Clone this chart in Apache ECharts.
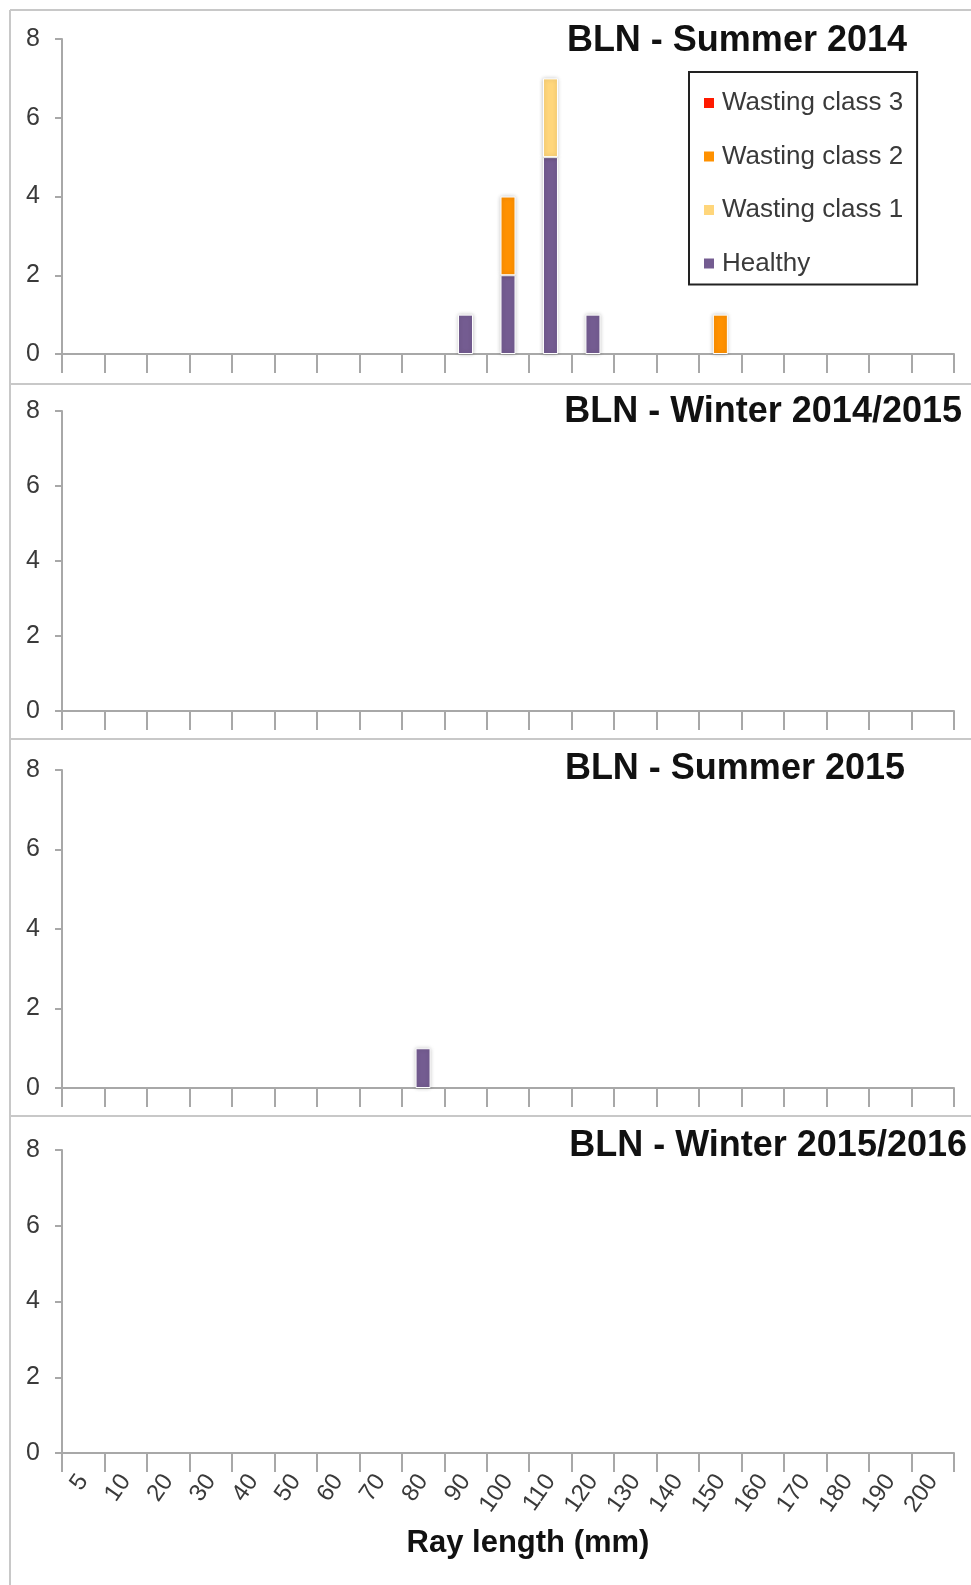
<!DOCTYPE html>
<html>
<head>
<meta charset="utf-8">
<script src="https://cdn.jsdelivr.net/npm/echarts@6/dist/echarts.min.js"></script>
<style>
  html, body { margin: 0; padding: 0; background: #ffffff; }
  #chart { width: 971px; height: 1585px; }
</style>
</head>
<body>
<div id="chart"></div>
<script>
// ---------- DATA ----------
const categories = ['5','10','20','30','40','50','60','70','80','90','100','110','120','130','140','150','160','170','180','190','200'];
const panelTitles = ['BLN - Summer 2014', 'BLN - Winter 2014/2015', 'BLN - Summer 2015', 'BLN - Winter 2015/2016'];
const seriesNames = ['Healthy', 'Wasting class 1', 'Wasting class 2', 'Wasting class 3'];
const legendOrder = ['Wasting class 3', 'Wasting class 2', 'Wasting class 1', 'Healthy'];
const yTicks = [0, 2, 4, 6, 8];
const xAxisTitle = 'Ray length (mm)';

// Summer 2014
const summer2014Healthy = [0,0,0,0,0,0,0,0,0,1,2,5,1,0,0,0,0,0,0,0,0];
const summer2014Class1  = [0,0,0,0,0,0,0,0,0,0,0,2,0,0,0,0,0,0,0,0,0];
const summer2014Class2  = [0,0,0,0,0,0,0,0,0,0,2,0,0,0,0,1,0,0,0,0,0];
const summer2014Class3  = [0,0,0,0,0,0,0,0,0,0,0,0,0,0,0,0,0,0,0,0,0];
// Winter 2014/2015
const winter1415Healthy = [0,0,0,0,0,0,0,0,0,0,0,0,0,0,0,0,0,0,0,0,0];
const winter1415Class1  = [0,0,0,0,0,0,0,0,0,0,0,0,0,0,0,0,0,0,0,0,0];
const winter1415Class2  = [0,0,0,0,0,0,0,0,0,0,0,0,0,0,0,0,0,0,0,0,0];
const winter1415Class3  = [0,0,0,0,0,0,0,0,0,0,0,0,0,0,0,0,0,0,0,0,0];
// Summer 2015
const summer2015Healthy = [0,0,0,0,0,0,0,0,1,0,0,0,0,0,0,0,0,0,0,0,0];
const summer2015Class1  = [0,0,0,0,0,0,0,0,0,0,0,0,0,0,0,0,0,0,0,0,0];
const summer2015Class2  = [0,0,0,0,0,0,0,0,0,0,0,0,0,0,0,0,0,0,0,0,0];
const summer2015Class3  = [0,0,0,0,0,0,0,0,0,0,0,0,0,0,0,0,0,0,0,0,0];
// Winter 2015/2016
const winter1516Healthy = [0,0,0,0,0,0,0,0,0,0,0,0,0,0,0,0,0,0,0,0,0];
const winter1516Class1  = [0,0,0,0,0,0,0,0,0,0,0,0,0,0,0,0,0,0,0,0,0];
const winter1516Class2  = [0,0,0,0,0,0,0,0,0,0,0,0,0,0,0,0,0,0,0,0,0];
const winter1516Class3  = [0,0,0,0,0,0,0,0,0,0,0,0,0,0,0,0,0,0,0,0,0];

const panelData = [
  [summer2014Healthy, summer2014Class1, summer2014Class2, summer2014Class3],
  [winter1415Healthy, winter1415Class1, winter1415Class2, winter1415Class3],
  [summer2015Healthy, summer2015Class1, summer2015Class2, summer2015Class3],
  [winter1516Healthy, winter1516Class1, winter1516Class2, winter1516Class3]
];

// ---------- STYLE / LAYOUT ----------
const FONT = '"Liberation Sans", Arial, Helvetica, sans-serif';
const colors = { 'Healthy': '#745C91', 'Wasting class 1': '#FFD67B', 'Wasting class 2': '#FF9100', 'Wasting class 3': '#FF1A00' };
const axisGray = '#A8A8A8';
const frameGray = '#C8C8C8';
const textColor = '#3A3A3A';

const grids = [
  { left: 62, right: 17, top: 39, height: 315 },
  { left: 62, right: 17, top: 411, height: 300 },
  { left: 62, right: 17, top: 770, height: 318 },
  { left: 62, right: 17, top: 1150, height: 303 }
];
const titlePos = [
  { right: 64, top: 23 },
  { right: 9, top: 394 },
  { right: 66, top: 751 },
  { right: 4, top: 1128 }
];

const xAxes = grids.map((g, i) => ({
  type: 'category',
  gridIndex: i,
  data: categories,
  boundaryGap: true,
  axisLine: { show: true, lineStyle: { color: axisGray, width: 2 } },
  axisTick: { show: true, interval: 0, length: 19, lineStyle: { color: axisGray, width: 2 } },
  axisLabel: i === 3 ? {
    show: true, interval: 0, rotate: 55, margin: 24,
    fontSize: 24, color: textColor, fontFamily: FONT, padding: [0, 0, 0, 0]
  } : { show: false },
  name: i === 3 ? xAxisTitle : '',
  nameLocation: 'middle',
  nameGap: 75,
  nameTextStyle: { fontSize: 31, fontWeight: 'bold', color: '#111', fontFamily: FONT, padding: [0, 0, 0, 40] }
}));

const yAxes = grids.map((g, i) => ({
  type: 'value',
  gridIndex: i,
  min: yTicks[0],
  max: yTicks[yTicks.length - 1],
  interval: yTicks[1] - yTicks[0],
  axisLine: { show: true, lineStyle: { color: axisGray, width: 2 } },
  axisTick: { show: true, length: 7, lineStyle: { color: axisGray, width: 2 } },
  splitLine: { show: false },
  axisLabel: { fontSize: 25, color: textColor, margin: 22, fontFamily: FONT, padding: [4, 0, 0, 0] }
}));

const series = [];
panelData.forEach((panel, p) => {
  panel.forEach((values, k) => {
    const name = seriesNames[k];
    series.push({
      type: 'bar',
      name: name,
      stack: 'panel' + p,
      xAxisIndex: p,
      yAxisIndex: p,
      barWidth: 15,
      data: values.map(v => (v === 0 ? null : v)),
      itemStyle: {
        color: colors[name],
        borderColor: '#ffffff',
        borderWidth: 1,
        shadowBlur: 4,
        shadowColor: 'rgba(0,0,0,0.22)'
      },
      emphasis: { disabled: true }
    });
  });
});

const frameLines = [];
frameLines.push({ type: 'line', shape: { x1: 10, y1: 10, x2: 10, y2: 1585 }, style: { stroke: frameGray, lineWidth: 2 }, silent: true });
[10, 384, 739, 1116].forEach(y => {
  frameLines.push({ type: 'line', shape: { x1: 10, y1: y, x2: 971, y2: y }, style: { stroke: frameGray, lineWidth: 2 }, silent: true });
});

const option = {
  backgroundColor: '#ffffff',
  animation: false,
  title: panelTitles.map((t, i) => ({
    text: t,
    right: titlePos[i].right,
    top: titlePos[i].top,
    padding: 0,
    textStyle: { fontSize: 36, fontWeight: 'bold', color: '#111', fontFamily: FONT }
  })),
  legend: {
    orient: 'vertical',
    left: 689,
    top: 72,
    width: 233,
    data: legendOrder,
    icon: 'rect',
    itemWidth: 10,
    itemHeight: 10,
    itemGap: 27.5,
    padding: [18, 14, 8, 15],
    borderColor: '#222',
    borderWidth: 2,
    backgroundColor: '#fff',
    selectedMode: false,
    itemStyle: { borderWidth: 0, shadowBlur: 0 },
    textStyle: { fontSize: 26, color: textColor, fontFamily: FONT, padding: [0, 0, 0, 3] }
  },
  grid: grids,
  xAxis: xAxes,
  yAxis: yAxes,
  series: series,
  graphic: frameLines
};

const chart = echarts.init(document.getElementById('chart'), null, { renderer: 'canvas' });
chart.setOption(option);
</script>
</body>
</html>
